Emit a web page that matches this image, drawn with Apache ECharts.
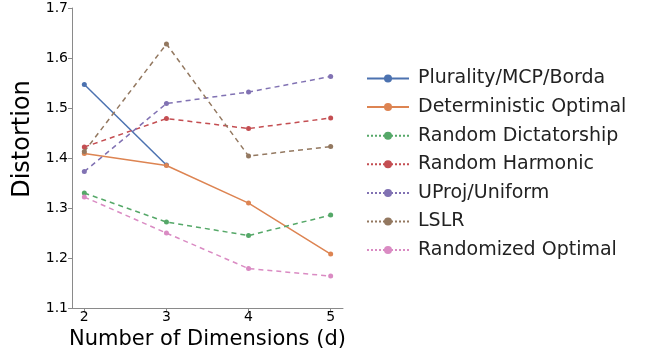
<!DOCTYPE html>
<html><head><meta charset="utf-8">
<script src="https://cdn.jsdelivr.net/npm/echarts@6/dist/echarts.min.js"></script>
<style>html,body{margin:0;padding:0;background:#fff}#c{width:650px;height:355px}</style>
</head><body><div id="c"></div>
<script>
const dims = [2, 3, 4, 5];
const yTicks = [1.1, 1.2, 1.3, 1.4, 1.5, 1.6, 1.7];
const pluralityMCPBorda = [1.547, 1.386];
const deterministicOptimal = [1.409, 1.385, 1.310, 1.208];
const randomDictatorship = [1.330, 1.272, 1.245, 1.286];
const randomHarmonic = [1.422, 1.479, 1.459, 1.480];
const uprojUniform = [1.373, 1.509, 1.532, 1.563];
const lslr = [1.413, 1.628, 1.404, 1.423];
const randomizedOptimal = [1.322, 1.250, 1.179, 1.164];

const seriesDefs = [
  {name: 'Plurality/MCP/Borda', data: pluralityMCPBorda, color: '#4c72b0', dashed: false},
  {name: 'Deterministic Optimal', data: deterministicOptimal, color: '#dd8452', dashed: false},
  {name: 'Random Dictatorship', data: randomDictatorship, color: '#55a868', dashed: true},
  {name: 'Random Harmonic', data: randomHarmonic, color: '#c44e52', dashed: true},
  {name: 'UProj/Uniform', data: uprojUniform, color: '#8172b3', dashed: true},
  {name: 'LSLR', data: lslr, color: '#937860', dashed: true},
  {name: 'Randomized Optimal', data: randomizedOptimal, color: '#da8bc3', dashed: true}
];
const FONT = 'DejaVu Sans';
const chart = echarts.init(document.getElementById('c'), null, {renderer: 'canvas'});
chart.setOption({
  animation: false,
  grid: {left: 72, top: 8, right: 307, bottom: 46, containLabel: false},
  graphic: [{
    type: 'text', x: 23, y: 139, rotation: Math.PI / 2,
    style: {text: 'Distortion', fontFamily: FONT, fontSize: 24, fill: '#000', align: 'center', verticalAlign: 'middle'}
  }],
  xAxis: {
    type: 'value', min: 1.85, max: 5.15,
    name: 'Number of Dimensions (d)', nameLocation: 'middle', nameGap: 19,
    nameTextStyle: {fontFamily: FONT, fontSize: 21, color: '#000'},
    axisLine: {show: true, lineStyle: {color: '#8a8a8a', width: 1}},
    axisTick: {show: true, customValues: dims, length: 4, lineStyle: {color: '#8a8a8a'}},
    axisLabel: {customValues: dims, fontFamily: FONT, fontSize: 14, color: '#000', margin: 2},
    splitLine: {show: false}
  },
  yAxis: {
    type: 'value', min: yTicks[0], max: yTicks[yTicks.length - 1], interval: 0.1,
    axisLine: {show: true, lineStyle: {color: '#8a8a8a', width: 1}},
    axisTick: {show: true, length: 4, lineStyle: {color: '#8a8a8a'}},
    axisLabel: {fontFamily: FONT, fontSize: 14, color: '#000', margin: 4, formatter: v => v.toFixed(1)},
    splitLine: {show: false}
  },
  legend: {
    orient: 'vertical', left: 361, top: 64, itemWidth: 42, itemHeight: 10, itemGap: 9.6,
    textStyle: {fontFamily: FONT, fontSize: 19, color: '#222', padding: [0, 0, 0, 4]},
    data: seriesDefs.map(s => ({name: s.name, lineStyle: {type: s.dashed ? 'dotted' : 'solid', width: 2}}))
  },
  series: seriesDefs.map(s => ({
    name: s.name, type: 'line',
    data: s.data.map((v, i) => [dims[i], v]),
    color: s.color,
    symbol: 'circle', symbolSize: 5, showSymbol: true,
    lineStyle: {width: 1.5, type: s.dashed ? [5, 4] : 'solid', color: s.color},
    itemStyle: {color: s.color}
  }))
});
</script></body></html>
